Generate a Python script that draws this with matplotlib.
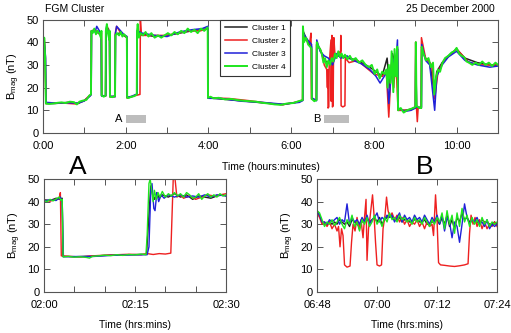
import numpy as np
import matplotlib
matplotlib.use("Agg")
import matplotlib.pyplot as plt

plt.rcParams['font.family'] = ['Liberation Sans', 'DejaVu Sans']
plt.rcParams['mathtext.fontset'] = 'custom'
plt.rcParams['mathtext.rm'] = 'Liberation Sans'
plt.rcParams['mathtext.it'] = 'Liberation Sans:italic'

names = ['Cluster 1', 'Cluster 2', 'Cluster 3', 'Cluster 4']
colors = ['#222222', '#ee2020', '#2020d8', '#1ee61e']

# ---- overview panel, hours since 0:00 ----
c1_t = [0, 0.03, 0.06, 0.072, 0.3, 0.6, 0.85, 1.0, 1.14, 1.165,
        1.172, 1.26, 1.34, 1.41, 1.416, 1.515, 1.522, 1.58, 1.61, 1.617,
        1.745, 1.752, 1.85, 1.95, 2.03, 2.036, 2.15, 2.27, 2.277, 2.4,
        2.7, 3.0, 3.3, 3.6, 3.85, 3.985, 3.991, 4.3, 4.8, 5.3,
        5.8, 6.2, 6.28, 6.287, 6.4, 6.493, 6.498, 6.612, 6.618, 6.7,
        6.8, 6.9, 7.0, 7.1, 7.2, 7.35, 7.5, 7.7, 7.9, 8.05,
        8.2, 8.32, 8.38, 8.45, 8.52, 8.575, 8.588, 8.75, 8.9, 9.005,
        9.013, 9.03, 9.148, 9.156, 9.25, 9.35, 9.46, 9.52, 9.65, 9.8,
        10.0, 10.2, 10.5, 10.8, 11.0]
c1_v = [34, 41, 33, 13, 13, 13.5, 13, 14.3, 16.5, 17,
        44.5, 45, 44, 43, 16.5, 16.3, 44.5, 46, 44, 16,
        16.2, 43.5, 44, 43, 42, 15.5, 16, 17, 45, 43.5,
        42.5, 43, 44, 45, 45.5, 46, 15.5, 15, 14.2, 13.3,
        12.5, 13.8, 14.5, 45, 40, 38, 15, 14.5, 39, 37,
        32, 31, 32, 34, 34, 33, 32.5, 31, 29, 27,
        25, 33, 20, 35, 30, 37, 10, 10, 10.5, 11.5,
        40, 11, 11.5, 37, 33, 31, 18, 27, 31, 34,
        37, 33, 31, 30, 30]

c2_t = [0, 0.03, 0.05, 0.07, 0.4, 0.8, 1.0, 1.12, 1.165, 1.17,
        1.25, 1.35, 1.414, 1.42, 1.515, 1.52, 1.55, 1.61, 1.615, 1.745,
        1.75, 1.78, 1.9, 2.025, 2.03, 2.2, 2.345, 2.355, 2.38, 2.6,
        3.0, 3.5, 3.8, 3.985, 3.99, 4.5, 5.0, 5.5, 5.8, 6.1,
        6.275, 6.282, 6.35, 6.45, 6.48, 6.49, 6.608, 6.614, 6.7, 6.77,
        6.80, 6.86, 6.877, 6.886, 6.892, 6.91, 6.92, 6.963, 6.968, 6.985,
        6.998, 7.015, 7.022, 7.032, 7.06, 7.195, 7.2, 7.208, 7.25, 7.30,
        7.31, 7.4, 7.6, 7.8, 8.0, 8.2, 8.3, 8.36, 8.38, 8.42,
        8.48, 8.53, 8.585, 8.8, 9.0, 9.01, 9.03, 9.05, 9.07, 9.14,
        9.15, 9.25, 9.4, 9.47, 9.55, 9.7, 10.0, 10.3, 10.6, 11.0]
c2_v = [35, 42, 33, 13, 13.3, 12.8, 14.3, 16.4, 17, 45,
        45.5, 44, 44, 16.5, 16.3, 45, 47, 44, 16, 16,
        44, 47, 43.5, 42.5, 15.5, 16.3, 17, 50, 43, 43,
        43, 45, 45, 46, 15.5, 15.2, 14.2, 13, 12.5, 13.5,
        14.5, 44, 41, 40, 44, 15, 14.5, 39, 37, 33,
        30, 28, 20, 28, 11, 11.5, 30, 41, 14, 43,
        11.5, 12, 30, 42, 34, 36, 43, 12, 11.5, 12,
        33, 31, 32, 29, 26, 25, 27, 7, 14, 30,
        20, 33, 10, 10, 11, 40, 11, 5, 11, 11,
        42, 33, 30, 15, 27, 32, 37, 31, 30, 30]

c3_t = [0, 0.03, 0.06, 0.073, 0.3, 0.6, 0.85, 1.0, 1.14, 1.166,
        1.173, 1.26, 1.3, 1.41, 1.417, 1.516, 1.523, 1.54, 1.61, 1.617,
        1.746, 1.753, 1.78, 1.95, 2.031, 2.037, 2.15, 2.272, 2.28, 2.4,
        2.7, 3.0, 3.3, 3.6, 3.85, 3.986, 3.992, 4.3, 4.8, 5.3,
        5.8, 6.2, 6.281, 6.288, 6.4, 6.494, 6.499, 6.613, 6.619, 6.7,
        6.8, 6.9, 7.0, 7.1, 7.2, 7.35, 7.5, 7.7, 7.9, 8.05,
        8.15, 8.32, 8.36, 8.45, 8.52, 8.57, 8.59, 8.75, 8.9, 9.006,
        9.014, 9.03, 9.149, 9.157, 9.25, 9.35, 9.47, 9.52, 9.65, 9.8,
        10.0, 10.2, 10.5, 10.8, 11.0]
c3_v = [36, 40, 34, 13.5, 13.2, 13.3, 13.2, 14.1, 16.3, 17,
        45, 44.5, 47, 43.5, 16.3, 16.5, 45, 47, 43, 16.2,
        16, 44, 47, 43.5, 42.5, 15.7, 16.2, 17.2, 45, 44,
        43, 42.5, 44.5, 45.5, 46, 47, 15.3, 15.2, 14, 13.5,
        12.7, 13.5, 14.3, 44, 41, 39, 15.5, 14.2, 41, 36,
        34, 33, 30, 35, 33, 34, 32, 30.5, 28, 25,
        22, 27, 13, 33, 28, 41, 11, 9.5, 10, 11,
        39, 11.5, 11, 39, 32, 30, 10, 25, 30, 33.5,
        36, 32, 30, 29, 29.5]

c4_t = [0.00, 0.015, 0.03, 0.05, 0.07, 0.15, 0.25, 0.35, 0.45, 0.55,
        0.65, 0.75, 0.82, 0.88, 0.95, 1.05, 1.12, 1.16, 1.17, 1.20,
        1.24, 1.28, 1.32, 1.36, 1.40, 1.413, 1.42, 1.47, 1.512, 1.52,
        1.545, 1.57, 1.605, 1.612, 1.62, 1.68, 1.742, 1.75, 1.79, 1.84,
        1.88, 1.92, 1.96, 2.028, 2.035, 2.08, 2.14, 2.20, 2.268, 2.275,
        2.29, 2.32, 2.36, 2.42, 2.48, 2.55, 2.62, 2.70, 2.78, 2.86,
        2.94, 3.02, 3.10, 3.18, 3.26, 3.34, 3.42, 3.50, 3.58, 3.66,
        3.74, 3.82, 3.90, 3.982, 3.99, 4.05, 4.12, 4.25, 4.40, 4.55,
        4.70, 4.85, 5.00, 5.15, 5.30, 5.45, 5.60, 5.75, 5.90, 6.05,
        6.18, 6.278, 6.285, 6.31, 6.36, 6.41, 6.46, 6.492, 6.50, 6.56,
        6.612, 6.62, 6.66, 6.70, 6.74, 6.78, 6.82, 6.86, 6.90, 6.94,
        6.98, 7.02, 7.06, 7.10, 7.14, 7.18, 7.22, 7.26, 7.30, 7.36,
        7.42, 7.48, 7.56, 7.64, 7.72, 7.80, 7.88, 7.95, 8.02, 8.08,
        8.14, 8.20, 8.26, 8.30, 8.33, 8.36, 8.40, 8.43, 8.47, 8.50,
        8.53, 8.565, 8.585, 8.65, 8.72, 8.80, 8.88, 8.95, 9.005, 9.015,
        9.03, 9.10, 9.145, 9.155, 9.20, 9.26, 9.32, 9.38, 9.43, 9.46,
        9.50, 9.55, 9.60, 9.66, 9.72, 9.80, 9.88, 9.94, 10.00, 10.06,
        10.12, 10.18, 10.24, 10.30, 10.38, 10.46, 10.54, 10.62, 10.70, 10.78,
        10.86, 10.94, 11.0]
c4_v = [35, 31, 42, 34, 13, 12.8, 13, 13.3, 13.5, 13.2,
        13.8, 13.6, 12.6, 13.8, 14.2, 14.6, 16.5, 17, 45, 44,
        46, 43.5, 45, 44, 42, 45, 16.5, 16, 16.5, 45,
        48, 44, 41, 45, 16, 15.8, 16.3, 43, 44, 43,
        44.5, 42.5, 43.5, 42, 15.5, 15.5, 16, 16.2, 17, 45,
        48, 42, 44, 43, 44.5, 42.5, 44, 42, 43, 42,
        43, 44, 43, 44.5, 43.5, 45, 44, 46, 44.5, 45.5,
        44, 46, 45, 46.5, 15.5, 16, 15.3, 15.5, 14.8, 15,
        14.5, 14.2, 14, 13.8, 13.3, 13, 12.6, 12.4, 13, 13.2,
        14, 14.5, 47, 40, 42, 39, 38, 37, 15, 14,
        14.5, 40, 38, 37, 35, 31, 33, 29, 32, 30,
        33, 31.5, 35, 33, 36, 33.5, 35, 33, 34.5, 32.5,
        34, 32, 33, 31, 32, 30, 29, 30, 26, 28,
        24, 27, 26, 28, 20, 30, 22, 36, 18, 37,
        25, 38, 10, 11, 9, 10, 10.5, 11, 11.5, 40,
        12, 11, 11, 38, 35, 32, 33, 29, 31, 17,
        24, 28, 27, 31, 33, 34, 35.5, 36, 37.5, 35,
        34, 33.5, 31.5, 31, 30, 31, 30, 31.5, 30, 31,
        29.5, 31, 30]

top_t = [c1_t, c2_t, c3_t, c4_t]
top_v = [c1_v, c2_v, c3_v, c4_v]
top_ticks = list(range(0, 12))
top_labels = ['0:00', '', '2:00', '', '4:00', '', '6:00', '', '8:00', '', '10:00', '']

# highlighted intervals (hours)
span_labels = ['A', 'B']
span_start = [2.0, 6.8]
span_len = [0.5, 0.6]

# ---- panel A, minutes after 02:00 ----
a1_t = [0, 1, 2, 2.6, 3.0, 3.12, 5, 8, 11, 14,
        16.9, 17.2, 17.6, 17.9, 18.2, 18.6, 19, 19.5, 20.5, 21.5,
        22.5, 23.5, 24.5, 25.5, 26.5, 27.5, 28.5, 29.5, 30]
a1_v = [40.8, 40.5, 41.5, 41, 41.5, 15.8, 15.6, 15.9, 16.3, 16.5,
        16.7, 30, 47, 43, 41, 44, 41.5, 43, 42, 43.5,
        42, 43, 41, 42.5, 42, 41.5, 42.5, 43, 42.5]
a2_t = [0, 1, 2, 2.5, 2.7, 2.85, 4, 6, 8, 10,
        12, 14, 16, 17.0, 18, 19, 20, 20.9, 21.3, 21.6,
        21.9, 22.5, 23, 24, 25, 26, 27, 28, 29, 30]
a2_v = [40.6, 40.2, 41, 41.5, 44, 16, 15.8, 15.5, 16, 16.3,
        16.5, 16.7, 16.5, 17, 16.6, 17, 16.8, 17.2, 50, 50,
        42, 43, 41.5, 42.5, 41, 42, 43, 42.5, 43, 43.5]
a3_t = [0, 1, 2, 2.7, 3.0, 3.2, 5, 8, 11, 14,
        17.0, 17.3, 17.6, 17.8, 18.1, 18.3, 18.6, 18.9, 19.3, 19.8,
        20.5, 21.5, 22.5, 23.5, 24.5, 25.5, 26.5, 27.5, 28.5, 30]
a3_v = [40.3, 40.8, 40.5, 42, 40, 15.6, 15.7, 15.7, 16.2, 16.4,
        16.5, 20, 45, 48, 37, 36, 44, 40, 43, 41.5,
        43, 42, 43, 42, 42.5, 42, 43, 42, 43, 42.5]
a4_t = [0, 0.5, 1, 1.5, 2, 2.5, 2.8, 3.0, 3.15, 4,
        5, 6, 7, 7.5, 8, 9, 10, 11, 12, 13,
        14, 15, 16, 16.8, 17.0, 17.3, 17.5, 17.8, 18.0, 18.2,
        18.5, 18.8, 19.1, 19.5, 20, 20.5, 21, 21.5, 22, 22.5,
        23, 23.5, 24, 24.5, 25, 25.5, 26, 26.5, 27, 27.5,
        28, 28.5, 29, 29.5, 30]
a4_v = [40.5, 40, 41, 40.3, 41.2, 42, 40.5, 41, 15.5, 15.8,
        15.4, 15.6, 15.3, 15, 15.8, 16, 16.3, 16.1, 16.5, 16.2,
        16.6, 16.4, 16.8, 16.5, 25, 48, 50, 44, 40, 45,
        41, 44, 42, 44.5, 42, 43.5, 42.5, 44, 42.5, 43.5,
        42, 44, 43, 41.5, 42, 43.5, 41, 42.5, 43.5, 42,
        43, 42, 43.5, 42.5, 43]
a_t = [a1_t, a2_t, a3_t, a4_t]
a_v = [a1_v, a2_v, a3_v, a4_v]
a_ticks = [0, 5, 10, 15, 20, 25, 30]
a_labels = ['02:00', '', '', '02:15', '', '', '02:30']

# ---- panel B, minutes after 06:48 (half-minute samples) ----
b_grid = np.arange(0, 36.01, 0.5)
b1_v = [35, 34, 31, 30, 30, 31, 30, 31, 30, 32,
        31, 30, 31, 29, 32, 31, 30, 29, 31, 32,
        32, 31, 32, 33, 31, 33, 30, 32, 33, 34,
        33, 32, 32, 33, 31, 32, 32, 31, 31, 32,
        32, 31, 31, 32, 30, 30, 31, 31, 32, 30,
        33, 30, 34, 29, 32, 28, 33, 31, 35, 32,
        33, 31, 32, 31, 31, 30, 32, 31, 31, 30,
        30, 31, 30]
b3_v = [36, 34, 31, 31, 30, 32, 31, 32, 33, 30,
        32, 31, 39, 30, 33, 31, 32, 30, 33, 31,
        34, 30, 32, 33, 35, 31, 33, 32, 34, 33,
        34, 31, 33, 35, 31, 34, 32, 33, 31, 34,
        32, 33, 31, 34, 32, 30, 33, 31, 34, 30,
        34, 27, 33, 31, 24, 31, 29, 22, 30, 39,
        33, 30, 32, 31, 33, 30, 31, 29, 32, 28,
        30, 29, 30]
b4_v = [36, 35, 32, 29, 31, 30, 32, 29.5, 31, 33,
        30, 28, 32, 30, 34, 29, 31, 27, 32, 30,
        33, 29, 31, 34, 30, 32, 29, 33, 31, 35,
        32, 33, 31, 34, 32, 33, 31, 32, 30, 33,
        31, 32, 30, 33, 31, 29, 32, 30, 33, 31,
        35, 28, 36, 30, 34, 26, 35, 29, 37, 31,
        34, 29, 33, 30, 32, 29, 33, 30, 32, 29,
        31, 30, 31]
b2_t = [0, 0.5, 1, 1.5, 2, 2.5, 3, 3.5, 4, 4.3,
        4.6, 4.9, 5.2, 5.5, 6.0, 6.6, 6.9, 7.2, 7.6, 8.0,
        8.4, 8.8, 9.2, 9.5, 9.8, 10.0, 10.3, 10.6, 11.1, 11.4,
        11.7, 12.0, 12.5, 12.9, 13.2, 13.6, 13.9, 14.2, 14.6, 15,
        15.5, 16, 16.5, 17, 17.5, 18, 18.5, 19, 19.5, 20,
        20.5, 21, 21.5, 22, 22.5, 23.0, 23.3, 23.7, 24.0, 24.3,
        24.7, 25.5, 26.5, 27.5, 28.5, 29.5, 30.2, 30.5, 30.8, 31.2,
        31.6, 32, 32.5, 33, 33.5, 34, 34.5, 35, 35.5, 36]
b2_v = [35, 33, 30, 31, 29, 31, 28, 30, 27, 29,
        20, 28, 25, 12, 11, 11.5, 22, 30, 27, 33,
        28, 32, 24, 33, 41, 14, 28, 33, 43, 34,
        22, 12, 11.5, 12, 28, 34, 42, 36, 33, 35,
        32, 34, 31, 33, 30, 32, 29, 31, 30, 32,
        29, 31, 28, 31, 29, 30, 25, 43, 32, 13,
        12, 11.8, 11.5, 11.3, 11.6, 12, 12.5, 26, 34, 30,
        33, 29, 32, 28, 31, 28, 30, 29, 31, 29]
b_t = [b_grid, b2_t, b_grid, b_grid]
b_v = [b1_v, b2_v, b3_v, b4_v]
b_ticks = [0, 12, 24, 36]
b_labels = ['06:48', '07:00', '07:12', '07:24']

frame = '#555555'


def style(ax):
    for s in ax.spines.values():
        s.set_color(frame)
        s.set_linewidth(0.8)
    ax.tick_params(direction='in', top=True, right=True, length=4,
                   width=0.7, color=frame, labelsize=8)
    ax.tick_params(axis='x', pad=6)
    ax.tick_params(axis='y', pad=3)
    ax.set_ylim(0, 50)
    ax.set_yticks([0, 10, 20, 30, 40, 50])
    ax.set_ylabel(r'B$_{\mathrm{mag}}$ (nT)', fontsize=8, labelpad=3)


fig = plt.figure(figsize=(5.11, 3.33), dpi=100)
ax = fig.add_axes([0.0841, 0.6006, 0.8904, 0.3408])
axa = fig.add_axes([0.0861, 0.1231, 0.3562, 0.3393])
axb = fig.add_axes([0.6204, 0.1231, 0.3523, 0.3393])

for i in range(4):
    ax.plot(top_t[i], top_v[i], color=colors[i], lw=1.1 if i < 3 else 1.4,
            label=names[i])
ax.broken_barh(list(zip(span_start, span_len)), (4.3, 3.6),
               facecolor='#bdbdbd', edgecolor='none')
for lab, s in zip(span_labels, span_start):
    ax.text(s - 0.08, 6.1, lab, ha='right', va='center', fontsize=8)
ax.set_xlim(0, 11)
ax.set_xticks(top_ticks)
ax.set_xticklabels(top_labels)
style(ax)
ax.set_xlabel('Time (hours:minutes)', fontsize=7.5, labelpad=8)
leg = ax.legend(loc='upper left', bbox_to_anchor=(0.389, 1.0), borderaxespad=0,
                fontsize=6, fancybox=False, framealpha=1, edgecolor='#333333',
                handlelength=2.6, handletextpad=0.6, labelspacing=0.6,
                borderpad=0.6)
leg.get_frame().set_linewidth(0.8)

for i in range(4):
    axa.plot(a_t[i], a_v[i], color=colors[i], lw=1.0)
    axb.plot(b_t[i], b_v[i], color=colors[i], lw=1.0)
axa.set_xlim(0, 30)
axa.set_xticks(a_ticks)
axa.set_xticklabels(a_labels)
axb.set_xlim(0, 36)
axb.set_xticks(b_ticks)
axb.set_xticklabels(b_labels)
for a in (axa, axb):
    style(a)
    a.set_xlabel('Time (hrs:mins)', fontsize=7.5, labelpad=7)

fig.text(0.088, 0.972, 'FGM Cluster', fontsize=7.5, ha='left', va='center')
fig.text(0.969, 0.972, '25 December 2000', fontsize=7.5, ha='right', va='center')
fig.text(78 / 511, 0.497, 'A', fontsize=19, ha='center', va='center')
fig.text(425 / 511, 0.497, 'B', fontsize=19, ha='center', va='center')

fig.savefig('out.png', dpi=100)
